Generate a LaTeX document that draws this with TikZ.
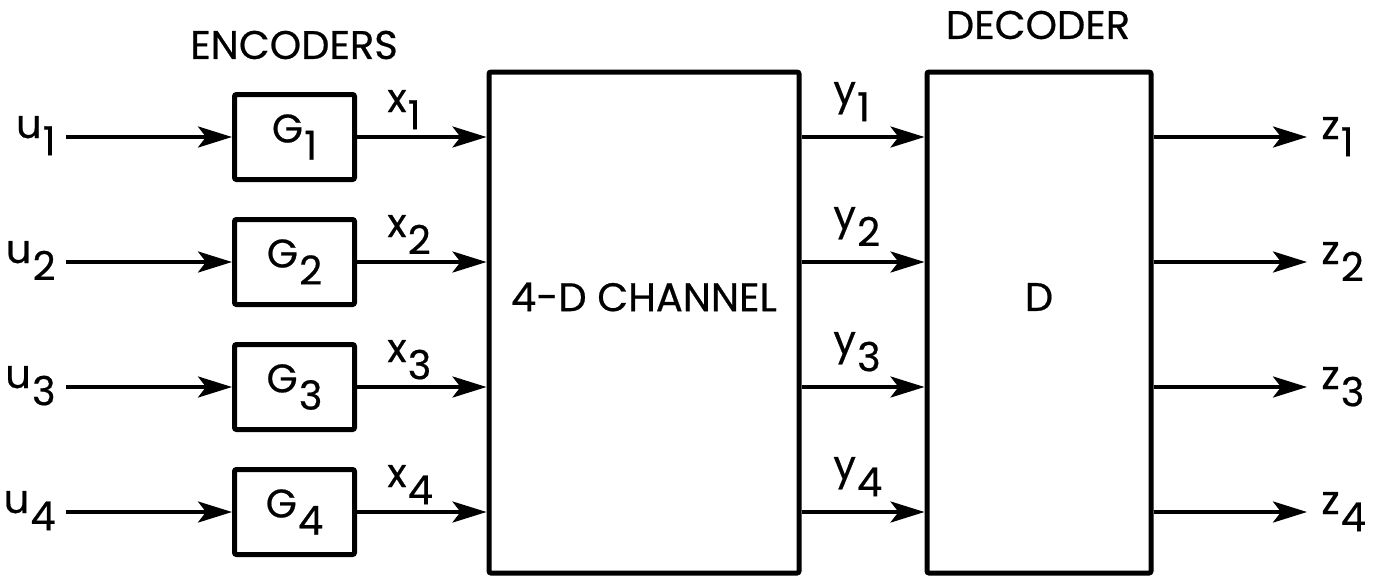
\documentclass[tikz,border=0pt]{standalone}
\usepackage{fontspec}
\setmainfont{Poppins}[FakeBold=0.5]
\usetikzlibrary{arrows.meta}
\newcommand\lbl[2]{#1\kern0.03em\raisebox{-0.43em}{#2}}
\begin{document}
\begin{tikzpicture}[x=0.5pt,y=-0.5pt,
  every node/.style={font=\fontsize{20}{24}\selectfont, inner sep=0pt},
  blk/.style={draw, line width=2.5pt, rounded corners=1pt},
  enc/.style={blk, minimum width=60pt, minimum height=42.5pt},
  big/.style={blk, minimum height=250.5pt},
  arr/.style={line width=1.9pt, -{Stealth[length=17pt,width=10.5pt,inset=4pt]}},
]
\useasboundingbox (0,0) rectangle (1384,578);
\node (enclbl) at (294,45) {ENCODERS};
\node (declbl) at (1038,25) {DECODER};
\node[big, minimum width=155pt] (chan) at (644,322.5) {};
\node[big, minimum width=112pt] (dec) at (1039,322.5) {};
\node (chantext) at (644,297) {4-D CHANNEL};
\node (dtext) at (1039,297) {D};
\foreach \i/\r in {1/137,2/262,3/387,4/512} {
  \node[enc] (G\i) at (294.5,\r) {\lbl{G}{\i}};
  \node[anchor=base east] (u\i) at (56,\r+1) {\lbl{u}{\i}};
  \node[anchor=base west] (x\i) at (387,\r-25) {\lbl{x}{\i}};
  \node[anchor=base west] (y\i) at (833,\r-33) {\lbl{y}{\i}};
  \node[anchor=base west] (z\i) at (1321,\r+2) {\lbl{z}{\i}};
  \draw[arr, shorten <=5pt] (u\i.east |- G\i.west) -- (G\i.west);
  \draw[arr] (G\i.east) -- (chan.west |- G\i.east);
  \draw[arr] (chan.east |- G\i.east) -- (dec.west |- G\i.east);
  \draw[arr, shorten >=7pt] (dec.east |- G\i.east) -- (z\i.west |- G\i.east);
}
\end{tikzpicture}
\end{document}
